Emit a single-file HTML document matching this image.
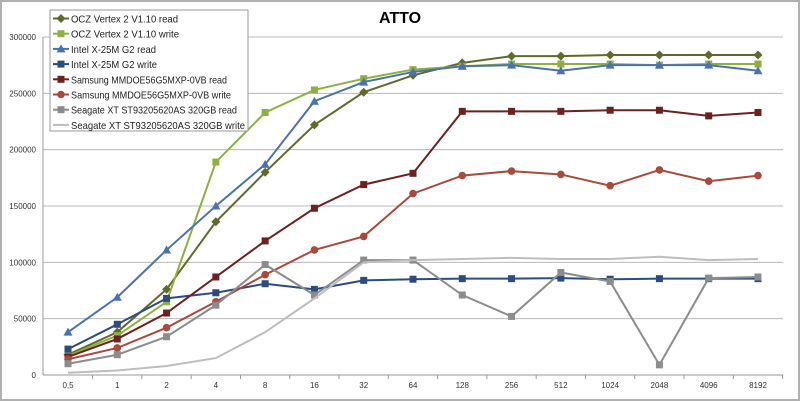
<!DOCTYPE html>
<html><head><meta charset="utf-8"><style>
body{margin:0;background:#fff;}
svg{display:block;font-family:"Liberation Sans",Arial,sans-serif;}
</style></head><body>
<svg id="chart" width="800" height="401">
<rect x="1" y="1" width="798" height="399" fill="#fff" stroke="#b0b0b0" stroke-width="2"/>
<text x="400" y="23" text-anchor="middle" font-weight="bold" font-size="16">ATTO</text>
<g id="grid"></g><g id="series"></g><g id="legend"></g>
</svg>
<script>
const categories=["0,5","1","2","4","8","16","32","64","128","256","512","1024","2048","4096","8192"];
const yTicks=[0,50000,100000,150000,200000,250000,300000];
const names=["OCZ Vertex 2 V1.10 read","OCZ Vertex 2 V1.10 write","Intel X-25M G2 read","Intel X-25M G2 write","Samsung MMDOE56G5MXP-0VB read","Samsung MMDOE56G5MXP-0VB write","Seagate XT ST93205620AS 320GB read","Seagate XT ST93205620AS 320GB write"];
const oczRead=[18000,38000,76000,136000,180000,222000,251000,266000,277000,283000,283000,284000,284000,284000,284000];
const oczWrite=[17000,35000,65000,189000,233000,253000,263000,271000,274000,276000,276000,276000,275000,276000,276000];
const intelRead=[38000,69000,111000,150000,187000,243000,260000,269000,274000,275000,270000,275000,275000,275000,270000];
const intelWrite=[23000,45000,68000,73000,81000,76000,84000,85000,85500,85500,86000,85000,85500,85500,85500];
const samsungRead=[16000,32000,55000,87000,119000,148000,169000,179000,234000,234000,234000,235000,235000,230000,233000];
const samsungWrite=[14000,24000,42000,65000,89000,111000,123000,161000,177000,181000,178000,168000,182000,172000,177000];
const seagateRead=[10000,18000,34000,62000,98000,71000,102000,102000,71000,52000,91000,83000,9000,86000,87000];
const seagateWrite=[2000,4000,8000,15000,38000,68000,100000,102000,103000,104000,103000,103000,105000,102000,103000];
const seriesData=[oczRead,oczWrite,intelRead,intelWrite,samsungRead,samsungWrite,seagateRead,seagateWrite];
const colors=["#5f6b2c","#8fb040","#4a72b0","#2b4c7e","#6e2020","#a84a3c","#8c8c8c","#bdbdbd"];
const markers=["diamond","square","triangle","square","square","circle","square","none"];
const slugs=["ocz-read","ocz-write","intel-read","intel-write","samsung-read","samsung-write","seagate-read","seagate-write"];
const NS="http://www.w3.org/2000/svg";
const L=43,R=783,T=37,B=375;
const xs=i=>68+i*(758-68)/(categories.length-1);
const ys=v=>B-(v/300000)*(B-T);
function mk(tag,at,parent){const e=document.createElementNS(NS,tag);for(const k in at)e.setAttribute(k,at[k]);parent.appendChild(e);return e;}
const grid=document.getElementById('grid');
yTicks.forEach(t=>{
 const l=mk('line',{x1:L,x2:R,y1:ys(t),y2:ys(t),stroke:t===0?'#999':'#b8b8b8','stroke-width':1},grid);
 
 
 const tx=mk('text',{x:36,y:ys(t)+3,'text-anchor':'end','font-size':8,fill:'#333'},grid);tx.textContent=t;
 
 
});
const ax=mk('line',{x1:L,x2:L,y1:T,y2:B,stroke:'#999'},grid);


categories.forEach((c,i)=>{
 const tk=mk('line',{x1:xs(i)+24.6,x2:xs(i)+24.6,y1:B,y2:B+4,stroke:'#999'},grid);
 
 
 const tx=mk('text',{x:xs(i),y:B+13,'text-anchor':'middle','font-size':8,fill:'#333'},grid);tx.textContent=c;
 
 
});
function marker(type,x,y,col,parent){
 let e=null;
 if(type==='square')e=mk('rect',{x:x-3.5,y:y-3.5,width:7,height:7,fill:col},parent);
 else if(type==='circle')e=mk('circle',{cx:x,cy:y,r:3.8,fill:col},parent);
 else if(type==='triangle')e=mk('polygon',{points:`${x},${y-4.5} ${x+4.5},${y+3.5} ${x-4.5},${y+3.5}`,fill:col},parent);
 else if(type==='diamond')e=mk('polygon',{points:`${x},${y-4.5} ${x+4.5},${y} ${x},${y+4.5} ${x-4.5},${y}`,fill:col},parent);
 return e;
}
const sg=document.getElementById('series');
seriesData.forEach((d,s)=>{
 const g=mk('g',{},sg);
 
 
 const pl=mk('polyline',{points:d.map((v,i)=>xs(i)+','+ys(v)).join(' '),fill:'none',stroke:colors[s],'stroke-width':2},g);
 
 
 d.forEach((v,i)=>{const m=marker(markers[s],xs(i),ys(v),colors[s],g);if(m){
  
  }});
});
const lg=document.getElementById('legend');
const box=mk('rect',{x:50,y:10,width:198,height:121,fill:'#fff',stroke:'#999'},lg);


const lens=[107,108,85,86,156,160,166,174];
names.forEach((n,s)=>{
 const y=18.5+s*15.2;
 const g=mk('g',{},lg);
 
 
 mk('line',{x1:53,x2:69,y1:y,y2:y,stroke:colors[s],'stroke-width':2},g);
 marker(markers[s],61,y,colors[s],g);
 const t=mk('text',{x:71,y:y+4,'font-size':10.5,fill:'#222',textLength:lens[s],lengthAdjust:'spacingAndGlyphs'},g);t.textContent=n;
});
</script>
</body></html>
